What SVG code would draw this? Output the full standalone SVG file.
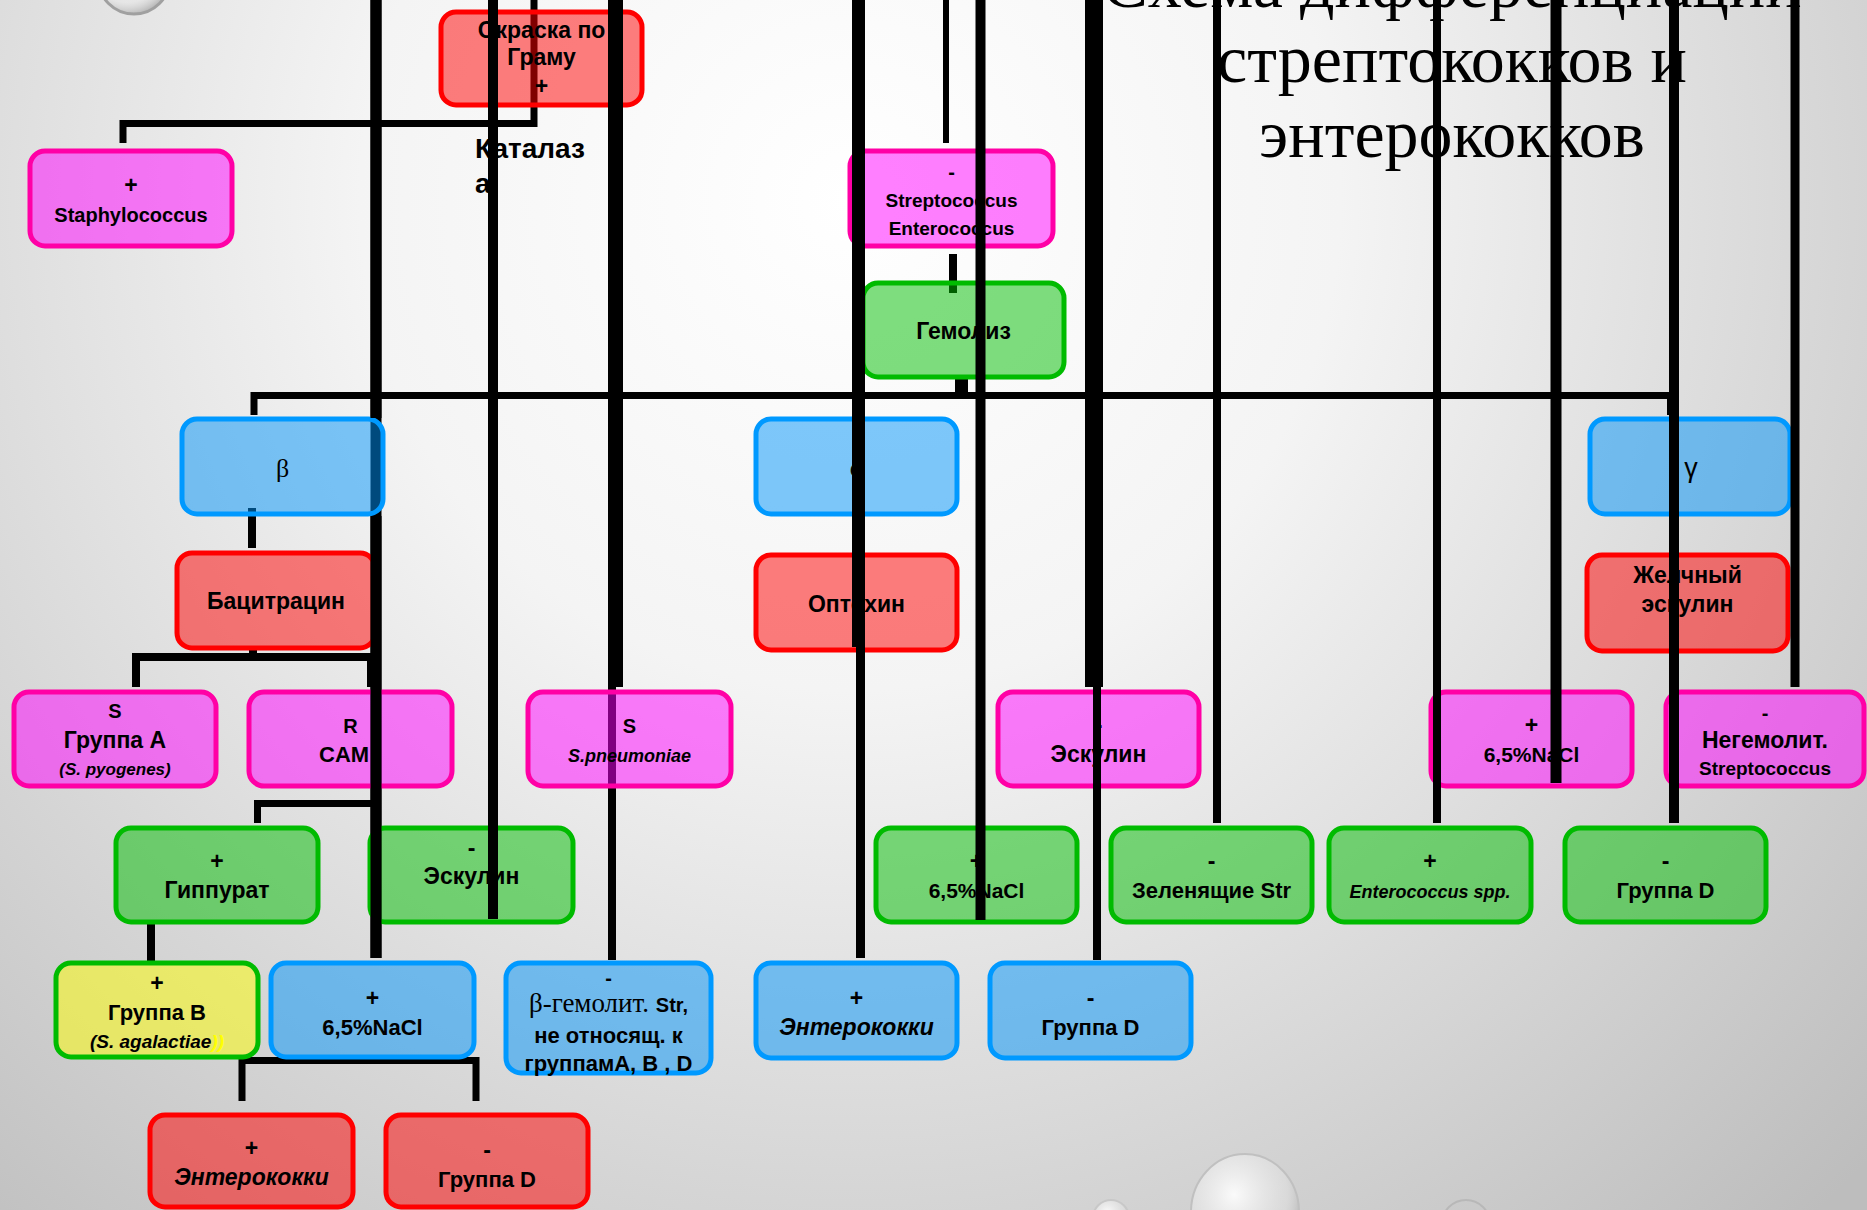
<svg xmlns="http://www.w3.org/2000/svg" width="1867" height="1210" viewBox="0 0 1867 1210">
<defs>
<radialGradient id="bg" gradientUnits="userSpaceOnUse" cx="850" cy="200" r="1400">
<stop offset="0" stop-color="#ffffff"/>
<stop offset="0.35" stop-color="#f4f4f4"/>
<stop offset="1" stop-color="#bdbdbd"/>
</radialGradient>
<radialGradient id="bub" cx="0.4" cy="0.35" r="0.7">
<stop offset="0" stop-color="#ffffff" stop-opacity="0.9"/>
<stop offset="0.7" stop-color="#e8e8e8" stop-opacity="0.4"/>
<stop offset="1" stop-color="#9a9a9a" stop-opacity="0.8"/>
</radialGradient>
<style>
.n{stroke-width:5}
.r{fill:rgba(255,0,0,0.5);stroke:#ff0000}
.m{fill:rgba(255,0,255,0.5);stroke:#ff00a6}
.g{fill:rgba(0,190,0,0.5);stroke:#00bb00}
.b{fill:rgba(0,148,250,0.5);stroke:#0099ff}
.y{fill:rgba(255,255,0,0.5);stroke:#00bb00}
text{font-family:"Liberation Sans",Arial,sans-serif;font-weight:bold;fill:#000;text-anchor:middle}
.s23{font-size:23px}
.s22{font-size:22px}
.s21{font-size:21px}
.s20{font-size:20px}
.s19{font-size:19px}
.s18{font-size:18px}
.s17{font-size:17px}
.i{font-style:italic}
.ser{font-family:"Liberation Serif","Times New Roman",serif;font-weight:normal}
.title{font-family:"Liberation Serif","Times New Roman",serif;font-weight:normal;font-size:68px}
.c line,.c path{stroke:#000;fill:none;stroke-linecap:butt;stroke-linejoin:miter}
</style>
</defs>
<rect x="0" y="0" width="1867" height="1210" fill="url(#bg)"/>
<g id="bubbles">
<circle cx="134" cy="-22" r="36" fill="url(#bub)" stroke="#a0a0a0" stroke-width="3"/>
<ellipse cx="1245" cy="1212" rx="54" ry="58" fill="url(#bub)" stroke="#c0c0c0" stroke-width="2"/>
<circle cx="1111" cy="1218" r="18" fill="url(#bub)" stroke="#c8c8c8" stroke-width="2"/>
<circle cx="1466" cy="1224" r="24" fill="none" stroke="#b8b8b8" stroke-width="2"/>
</g>
<g id="title">
<text class="title" x="1452" y="7">Схема дифференциации</text>
<text class="title" x="1452" y="82">стрептококков и</text>
<text class="title" x="1452" y="157">энтерококков</text>
</g>
<g id="connectors-back" class="c">
<path d="M534 0 V123.5 H123 V143" stroke-width="7"/>
<line x1="946" y1="0" x2="946" y2="143" stroke-width="6"/>
<line x1="953" y1="254" x2="953" y2="293" stroke-width="8"/>
<line x1="961.5" y1="375" x2="961.5" y2="396" stroke-width="13"/>
<path d="M254 415 V395.5 H1670.5 V415" stroke-width="7"/>
<line x1="252" y1="508" x2="252" y2="548" stroke-width="8"/>
<line x1="253" y1="647" x2="253" y2="661" stroke-width="8"/>
<path d="M136 687 V657 H371 V687" stroke-width="8"/>
<path d="M257.5 823 V803.5 H377" stroke-width="7"/>
<line x1="151" y1="922" x2="151" y2="963" stroke-width="8"/>
<path d="M242 1101 V1060.5 H476 V1101" stroke-width="7"/>
<line x1="612" y1="0" x2="612" y2="960" stroke-width="8"/>
<line x1="376" y1="0" x2="376" y2="958" stroke-width="11"/>
</g>
<g id="n-gram"><rect class="n r" x="441" y="12" width="201" height="93" rx="15"/>
<text class="s23" x="541.5" y="38">Окраска по</text><text class="s23" x="541.5" y="65">Граму</text><text class="s23" x="541.5" y="94">+</text></g>
<g id="n-katalaza"><text style="font-size:28px;text-anchor:start" x="475" y="158">Каталаз</text><text style="font-size:28px;text-anchor:start" x="475" y="193">а</text></g>
<g id="n-staph"><rect class="n m" x="30" y="151" width="202" height="95" rx="15"/>
<text class="s23" x="131" y="193">+</text><text class="s20" x="131" y="222">Staphylococcus</text></g>
<g id="n-strep"><rect class="n m" x="850" y="151" width="203" height="95" rx="15"/>
<text class="s20" x="951.5" y="179">-</text><text class="s19" x="951.5" y="207">Streptococcus</text><text class="s19" x="951.5" y="235">Enterococcus</text></g>
<g id="n-gemoliz"><rect class="n g" x="863" y="283" width="201" height="94" rx="15"/>
<text class="s23" x="963.5" y="339">Гемолиз</text></g>
<g id="n-beta"><rect class="n b" x="182" y="419" width="201" height="95" rx="15"/>
<text class="ser" style="font-size:26px" x="282.5" y="477">β</text></g>
<g id="n-alpha"><rect class="n b" x="756" y="419" width="201" height="95" rx="15"/>
<text class="ser" style="font-size:26px" x="856.5" y="476">α</text></g>
<g id="n-gamma"><rect class="n b" x="1590" y="419" width="200" height="95" rx="15"/>
<text style="font-size:27px;font-weight:normal" x="1691" y="477">γ</text></g>
<g id="n-bacitr"><rect class="n r" x="177" y="553" width="198" height="95" rx="15"/>
<text class="s23" x="276" y="609">Бацитрацин</text></g>
<g id="n-optoh"><rect class="n r" x="756" y="555" width="201" height="95" rx="15"/>
<text class="s23" x="856.5" y="612">Оптохин</text></g>
<g id="n-zhelch"><rect class="n r" x="1587" y="555" width="201" height="96" rx="15"/>
<text class="s23" x="1687.5" y="583">Желчный</text><text class="s23" x="1687.5" y="612">эскулин</text></g>
<g id="n-grA"><rect class="n m" x="14" y="692" width="202" height="94" rx="15"/>
<text class="s20" x="115" y="718">S</text><text class="s23" x="115" y="748">Группа А</text><text class="s17 i" x="115" y="775">(S. pyogenes)</text></g>
<g id="n-camp"><rect class="n m" x="249" y="692" width="203" height="94" rx="15"/>
<text class="s20" x="350.5" y="733">R</text><text class="s22" style="text-anchor:start" x="319" y="762">CAM</text></g>
<g id="n-pneum"><rect class="n m" x="528" y="692" width="203" height="94" rx="15"/>
<text class="s20" x="629.5" y="733">S</text><text class="s18 i" x="629.5" y="762">S.pneumoniae</text></g>
<g id="n-eskulin1"><rect class="n m" x="998" y="692" width="201" height="94" rx="15"/>
<text class="s23" x="1098.5" y="733">-</text><text class="s23" x="1098.5" y="762">Эскулин</text></g>
<g id="n-nacl1"><rect class="n m" x="1431" y="692" width="201" height="94" rx="15"/>
<text class="s23" x="1531.5" y="733">+</text><text class="s21" x="1531.5" y="762">6,5%NaCl</text></g>
<g id="n-negem"><rect class="n m" x="1666" y="692" width="198" height="94" rx="15"/>
<text class="s20" x="1765" y="720">-</text><text class="s23" x="1765" y="748">Негемолит.</text><text class="s19" x="1765" y="775">Streptococcus</text></g>
<g id="n-gipp"><rect class="n g" x="116" y="828" width="202" height="94" rx="15"/>
<text class="s23" x="217" y="869">+</text><text class="s23" x="217" y="898">Гиппурат</text></g>
<g id="n-eskulin2"><rect class="n g" x="370" y="828" width="203" height="94" rx="15"/>
<text class="s23" x="471.5" y="856">-</text><text class="s23" x="471.5" y="884">Эскулин</text></g>
<g id="n-nacl2"><rect class="n g" x="876" y="828" width="201" height="94" rx="15"/>
<text class="s23" x="976.5" y="869">+</text><text class="s21" x="976.5" y="898">6,5%NaCl</text></g>
<g id="n-zelen"><rect class="n g" x="1111" y="828" width="201" height="94" rx="15"/>
<text class="s23" x="1211.5" y="869">-</text><text class="s22" x="1211.5" y="898">Зеленящие Str</text></g>
<g id="n-enteroc"><rect class="n g" x="1329" y="828" width="202" height="94" rx="15"/>
<text class="s23" x="1430" y="869">+</text><text class="s18 i" x="1430" y="898">Enterococcus spp.</text></g>
<g id="n-grD1"><rect class="n g" x="1565" y="828" width="201" height="94" rx="15"/>
<text class="s23" x="1665.5" y="869">-</text><text class="s22" x="1665.5" y="898">Группа D</text></g>
<g id="n-grB"><rect class="n y" x="56" y="963" width="202" height="94" rx="15"/>
<text class="s23" x="157" y="991">+</text><text class="s22" x="157" y="1020">Группа В</text><text class="s19 i" x="157" y="1048">(S. agalactiae<tspan fill="#ffff00">))</tspan></text></g>
<g id="n-nacl3"><rect class="n b" x="271" y="963" width="203" height="94" rx="15"/>
<text class="s23" x="372.5" y="1006">+</text><text class="s22" x="372.5" y="1035">6,5%NaCl</text></g>
<g id="n-betagem"><rect class="n b" x="506" y="963" width="205" height="110" rx="15"/>
<text class="s20" x="608.5" y="985">-</text><text class="s20" x="608.5" y="1012"><tspan class="ser" style="font-size:27px">β-гемолит. </tspan>Str,</text><text class="s22" x="608.5" y="1043">не относящ. к</text><text class="s22" x="608.5" y="1071">группамА, В , D</text></g>
<g id="n-entero1"><rect class="n b" x="756" y="963" width="201" height="95" rx="15"/>
<text class="s23" x="856.5" y="1006">+</text><text class="s23 i" x="856.5" y="1035">Энтерококки</text></g>
<g id="n-grD2"><rect class="n b" x="990" y="963" width="201" height="95" rx="15"/>
<text class="s23" x="1090.5" y="1006">-</text><text class="s22" x="1090.5" y="1035">Группа D</text></g>
<g id="n-entero2"><rect class="n r" x="150" y="1115" width="203" height="92" rx="15"/>
<text class="s23" x="251.5" y="1156">+</text><text class="s23 i" x="251.5" y="1185">Энтерококки</text></g>
<g id="n-grD3"><rect class="n r" x="386" y="1115" width="202" height="92" rx="15"/>
<text class="s23" x="487" y="1158">-</text><text class="s22" x="487" y="1187">Группа D</text></g>
<g id="connectors" class="c">
<line x1="376" y1="0" x2="376" y2="418" stroke-width="11"/>
<line x1="376" y1="516" x2="376" y2="958" stroke-width="11"/>
<line x1="493" y1="0" x2="493" y2="919" stroke-width="10"/>
<line x1="615.5" y1="0" x2="615.5" y2="687" stroke-width="15"/>
<line x1="858.5" y1="0" x2="858.5" y2="647" stroke-width="13"/>
<line x1="860.5" y1="647" x2="860.5" y2="958" stroke-width="9"/>
<line x1="980.5" y1="0" x2="980.5" y2="920" stroke-width="10"/>
<line x1="1094" y1="0" x2="1094" y2="687" stroke-width="18"/>
<line x1="1097" y1="687" x2="1097" y2="960" stroke-width="8"/>
<line x1="1217" y1="0" x2="1217" y2="823" stroke-width="8"/>
<line x1="1437" y1="0" x2="1437" y2="823" stroke-width="8"/>
<line x1="1556" y1="0" x2="1556" y2="783" stroke-width="11"/>
<line x1="1674" y1="0" x2="1674" y2="823" stroke-width="10"/>
<line x1="1795" y1="0" x2="1795" y2="687" stroke-width="9"/>
</g>
</svg>
